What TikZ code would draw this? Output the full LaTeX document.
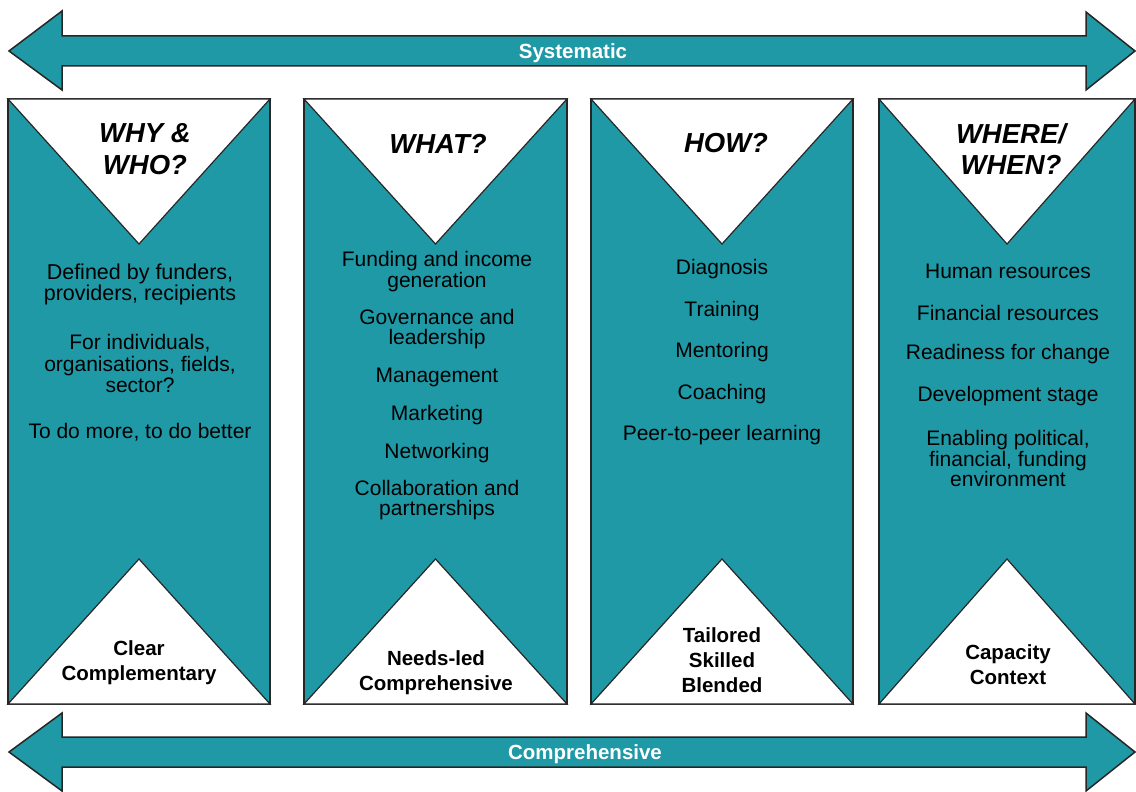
\documentclass[tikz,border=0pt]{standalone}
\usepackage{fontspec}
\setmainfont{Liberation Sans}
\usepackage{tikz}
\usetikzlibrary{positioning}
\definecolor{teal}{RGB}{32,153,166}

\begin{document}
\begin{tikzpicture}[
            x = 1pt, y = -1pt, % pixel-like coordinates, y downwards
            line join = miter,
            semithick
        ]

        \tikzstyle{band}=[draw = black!85, line width = 1.5pt, fill = teal]
        \tikzstyle{panel}=[draw = black!85, line width = 1.5pt, fill = teal]
        \tikzstyle{wedge}=[draw = black!85, line width = 1.2pt, fill = white]
        \tikzstyle{banner}=[yshift = -2pt, text = white, font = \bfseries\fontsize{20.5}{22}\selectfont]
        \tikzstyle{head}=[yshift = -1.5pt, align = center, font = \bfseries\itshape\fontsize{27.5}{31.5}\selectfont]
        \tikzstyle{item}=[yshift = -2pt, align = center, font = \fontsize{21}{20.5}\selectfont]
        \tikzstyle{base}=[yshift = -2pt, align = center, font = \bfseries\fontsize{20.5}{25}\selectfont]

        \useasboundingbox (0,0) rectangle (1136,792);

        % double arrows
        \draw[band] (9,51) -- (62,11) -- (62,36) -- (1086,36) -- (1086,12) -- (1135,51)
            -- (1086,90) -- (1086,66) -- (62,66) -- (62,90) -- cycle;
        \draw[band] (9,752) -- (62,713) -- (62,737) -- (1086,737) -- (1086,713) -- (1135,752)
            -- (1086,791) -- (1086,767) -- (62,767) -- (62,791) -- cycle;
        \node[banner] (sys) at (573,51) {Systematic};
        \node[banner] (comp) at (585,752) {Comprehensive};

        % panels with their two triangles
        \foreach \l/\r in {8/270, 304/567, 591/853, 879/1135} {
            \draw[panel] (\l,99) rectangle (\r,704);
            \draw[wedge] (\l,99) -- (\r,99) -- ({(\l+\r)/2},244) -- cycle;
            \draw[wedge] (\l,704) -- ({(\l+\r)/2},559) -- (\r,704) -- cycle;
        }

        % why & who
        \node[head] (why) at (145,147.5) {WHY \&\\WHO?};
        \node[item, font = \fontsize{21.5}{21.5}\selectfont] (why1) at (140,282.5) {Defined by funders,\\providers, recipients};
        \node[item, font = \fontsize{21}{21.5}\selectfont] (why2) at (140,361.5) {For individuals,\\organisations, fields,\\sector?};
        \node[item] (why3) at (140,430) {To do more, to do better};
        \node[base] (whybase) at (139,660.5) {Clear\\Complementary};

        % what
        \node[head] (what) at (438,142) {WHAT?};
        \node[item, font = \fontsize{21}{19.5}\selectfont] (what1) at (437,269.5) {Funding and income\\generation};
        \node[item] (what2) at (437,327) {Governance and\\leadership};
        \node[item] (what3) at (437,375) {Management};
        \node[item] (what4) at (437,413) {Marketing};
        \node[item] (what5) at (437,451) {Networking};
        \node[item] (what6) at (437,498) {Collaboration and\\partnerships};
        \node[base] (whatbase) at (436,670.5) {Needs-led\\Comprehensive};

        % how
        \node[head] (how) at (726,142) {HOW?};
        \node[item] (how1) at (722,267) {Diagnosis};
        \node[item] (how2) at (722,309) {Training};
        \node[item] (how3) at (722,350) {Mentoring};
        \node[item] (how4) at (722,392) {Coaching};
        \node[item] (how5) at (722,433) {Peer-to-peer learning};
        \node[base] (howbase) at (722,658) {Tailored\\Skilled\\Blended};

        % where / when
        \node[head] (where) at (1011,147.5) {WHERE/\\WHEN?};
        \node[item] (where1) at (1008,269) {Human resources};
        \node[item] (where2) at (1008,311) {Financial resources};
        \node[item] (where3) at (1008,352) {Readiness for change};
        \node[item] (where4) at (1008,394) {Development stage};
        \node[item] (where5) at (1008,456.5) {Enabling political,\\financial, funding\\environment};
        \node[base] (wherebase) at (1008,662.5) {Capacity\\Context};

  \end{tikzpicture}
\end{document}
